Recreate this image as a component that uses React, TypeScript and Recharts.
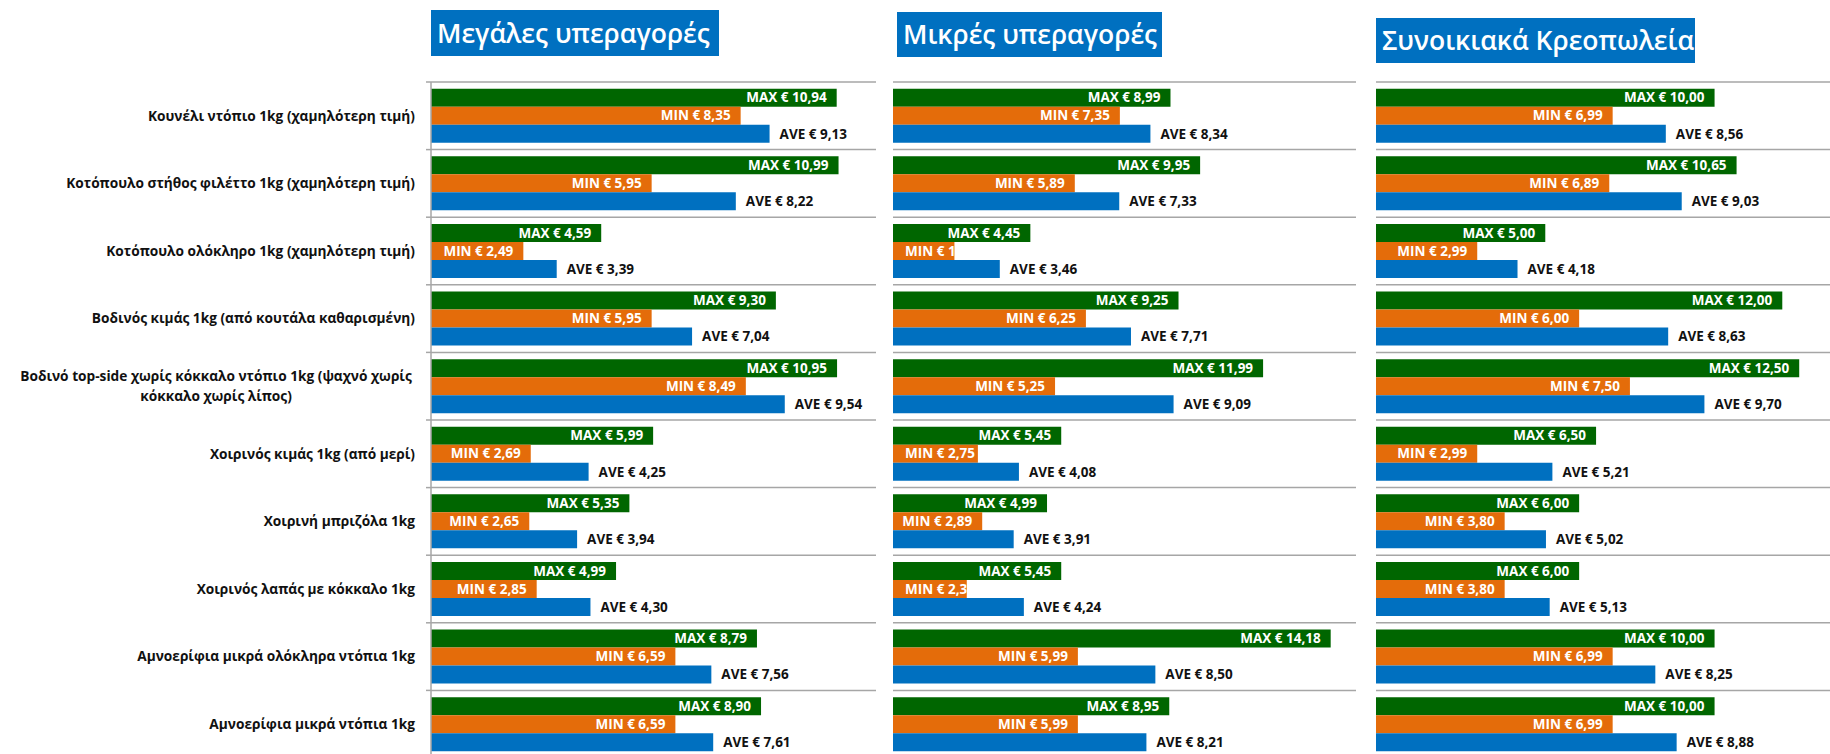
import React from 'react';
import { BarChart, Bar, XAxis, YAxis, CartesianGrid, LabelList } from 'recharts';

const categories = [
  'Κουνέλι ντόπιο 1kg (χαμηλότερη τιμή)',
  'Κοτόπουλο στήθος φιλέττο 1kg (χαμηλότερη τιμή)',
  'Κοτόπουλο ολόκληρο 1kg (χαμηλότερη τιμή)',
  'Βοδινός κιμάς 1kg (από κουτάλα καθαρισμένη)',
  'Βοδινό top-side χωρίς κόκκαλο ντόπιο 1kg (ψαχνό χωρίς κόκκαλο χωρίς λίπος)',
  'Χοιρινός κιμάς 1kg (από μερί)',
  'Χοιρινή μπριζόλα 1kg',
  'Χοιρινός λαπάς με κόκκαλο 1kg',
  'Αμνοερίφια μικρά ολόκληρα ντόπια 1kg',
  'Αμνοερίφια μικρά ντόπια 1kg',
];

const bigMax = [10.94, 10.99, 4.59, 9.3, 10.95, 5.99, 5.35, 4.99, 8.79, 8.9];
const bigMin = [8.35, 5.95, 2.49, 5.95, 8.49, 2.69, 2.65, 2.85, 6.59, 6.59];
const bigAve = [9.13, 8.22, 3.39, 7.04, 9.54, 4.25, 3.94, 4.3, 7.56, 7.61];

const smallMax = [8.99, 9.95, 4.45, 9.25, 11.99, 5.45, 4.99, 5.45, 14.18, 8.95];
const smallMin = [7.35, 5.89, 1.99, 6.25, 5.25, 2.75, 2.89, 2.39, 5.99, 5.99];
const smallAve = [8.34, 7.33, 3.46, 7.71, 9.09, 4.08, 3.91, 4.24, 8.5, 8.21];

const butcherMax = [10.0, 10.65, 5.0, 12.0, 12.5, 6.5, 6.0, 6.0, 10.0, 10.0];
const butcherMin = [6.99, 6.89, 2.99, 6.0, 7.5, 2.99, 3.8, 3.8, 6.99, 6.99];
const butcherAve = [8.56, 9.03, 4.18, 8.63, 9.7, 5.21, 5.02, 5.13, 8.25, 8.88];

const titles = ['Μεγάλες υπεραγορές', 'Μικρές υπεραγορές', 'Συνοικιακά Κρεοπωλεία'];

const GREEN = '#006600';
const ORANGE = '#E46C0A';
const BLUE = '#0070C0';
const GRID = '#A6A6A6';
const FONT = "'Open Sans', 'DejaVu Sans', sans-serif";
const LABEL_SIZE = 13.5;

const ROWS = categories.length;
const PLOT_TOP = 82;
const PLOT_H = 676;

const fmt = (prefix: string, v: number) => `${prefix} € ${v.toFixed(2).replace('.', ',')}`;

const makeRows = (max: number[], min: number[], ave: number[]) =>
  categories.map((name, i) => ({ name, max: max[i], min: min[i], ave: ave[i] }));

const panels = [
  { title: titles[0], data: makeRows(bigMax, bigMin, bigAve), domainMax: 12, left: 0, yWidth: 431, plotW: 445, right: 6,
    box: { left: 431, top: 10, width: 288, height: 46 } },
  { title: titles[1], data: makeRows(smallMax, smallMin, smallAve), domainMax: 15, left: 893, yWidth: 0, plotW: 463, right: 30,
    box: { left: 897, top: 12, width: 265, height: 45 } },
  { title: titles[2], data: makeRows(butcherMax, butcherMin, butcherAve), domainMax: 14, left: 1376, yWidth: 0, plotW: 474, right: 0,
    box: { left: 1376, top: 18, width: 319, height: 45 } },
];

// grid lines sit on the category boundaries, not on the tick centres
const rowLines = (props: any) => {
  const top = props?.offset?.top ?? PLOT_TOP;
  const h = props?.offset?.height ?? PLOT_H;
  return Array.from({ length: ROWS + 1 }, (_, i) => top + (i * h) / ROWS);
};

const wrap = (label: string, maxChars: number) => {
  const words = label.split(' ');
  const lines: string[] = [];
  let cur = '';
  words.forEach((w) => {
    const next = cur ? cur + ' ' + w : w;
    if (next.length > maxChars && cur) {
      lines.push(cur);
      cur = w;
    } else cur = next;
  });
  if (cur) lines.push(cur);
  return lines;
};

const CategoryTick = (props: any) => {
  const { x, y, payload } = props;
  const label = String(payload.value);
  const lines = wrap(label, 56);
  const half = PLOT_H / ROWS / 2;
  const axisX = x + 16;
  const common = { fontFamily: FONT, fontSize: 13.7, fontWeight: 700, fill: '#111' };
  return (
    <g>
      <line x1={axisX - 5} x2={axisX} y1={y - half} y2={y - half} stroke={GRID} strokeWidth={1.5} />
      {lines.length === 1 ? (
        <text x={x} y={y} dy="0.35em" textAnchor="end" {...common}>{label}</text>
      ) : (
        <text x={x - 199} y={y} textAnchor="middle" {...common}>
          {lines.map((l, i) => (
            <tspan key={i} x={x - 199} dy={i === 0 ? `${0.35 - ((lines.length - 1) * 1.45) / 2}em` : '1.45em'}>{l}</tspan>
          ))}
        </text>
      )}
    </g>
  );
};

const insideLabel = (prefix: string) => (props: any) => {
  const { x, y, width, height, value } = props;
  if (value == null) return null;
  const text = fmt(prefix, Number(value));
  const est = text.length * 7.3;
  const fits = width >= est + 12;
  return (
    <svg x={x} y={y} width={Math.max(width, 0)} height={height} overflow="hidden">
      <text
        x={fits ? width - 10 : 12}
        y={height / 2}
        dy="0.35em"
        textAnchor={fits ? 'end' : 'start'}
        fontFamily={FONT}
        fontSize={LABEL_SIZE}
        fontWeight={700}
        fill="#fff"
      >
        {text}
      </text>
    </svg>
  );
};

const Panel = ({ p }: { p: (typeof panels)[number] }) => (
  <div style={{ position: 'absolute', left: p.left, top: 0 }}>
    <BarChart
      width={p.yWidth + p.plotW + p.right}
      height={PLOT_TOP + PLOT_H}
      data={p.data}
      layout="vertical"
      barCategoryGap="10%"
      barGap={0}
      margin={{ top: PLOT_TOP, right: p.right, bottom: 0, left: 0 }}
    >
      <CartesianGrid vertical={false} stroke={GRID} strokeWidth={1.5} horizontalCoordinatesGenerator={rowLines} />
      <XAxis type="number" domain={[0, p.domainMax]} hide />
      {p.yWidth > 0 ? (
        <YAxis
          type="category"
          dataKey="name"
          width={p.yWidth}
          interval={0}
          axisLine={{ stroke: GRID, strokeWidth: 1.5 }}
          tickLine={false}
          tickSize={6}
          tickMargin={10}
          tick={<CategoryTick />}
        />
      ) : (
        <YAxis type="category" dataKey="name" hide />
      )}
      <Bar dataKey="max" fill={GREEN} isAnimationActive={false}>
        <LabelList dataKey="max" content={insideLabel('MAX')} />
      </Bar>
      <Bar dataKey="min" fill={ORANGE} isAnimationActive={false}>
        <LabelList dataKey="min" content={insideLabel('MIN')} />
      </Bar>
      <Bar dataKey="ave" fill={BLUE} isAnimationActive={false}>
        <LabelList
          dataKey="ave"
          position="right"
          offset={10}
          formatter={(v: any) => fmt('AVE', Number(v))}
          style={{ fontFamily: FONT, fontSize: LABEL_SIZE, fontWeight: 700, fill: '#111' }}
        />
      </Bar>
    </BarChart>
    <div
      style={{
        position: 'absolute',
        left: p.box.left - p.left,
        top: p.box.top,
        width: p.box.width,
        height: p.box.height,
        lineHeight: `${p.box.height}px`,
        background: BLUE,
        color: '#fff',
        fontFamily: FONT,
        fontSize: 26.5,
        fontWeight: 600,
        paddingLeft: 6,
        boxSizing: 'border-box',
        whiteSpace: 'nowrap',
      }}
    >
      {p.title}
    </div>
  </div>
);

export default function App() {
  return (
    <div style={{ position: 'absolute', left: 0, top: 0, width: 1830, height: 754, overflow: 'hidden', background: '#fff' }}>
      {panels.map((p) => (
        <Panel key={p.title} p={p} />
      ))}
    </div>
  );
}
